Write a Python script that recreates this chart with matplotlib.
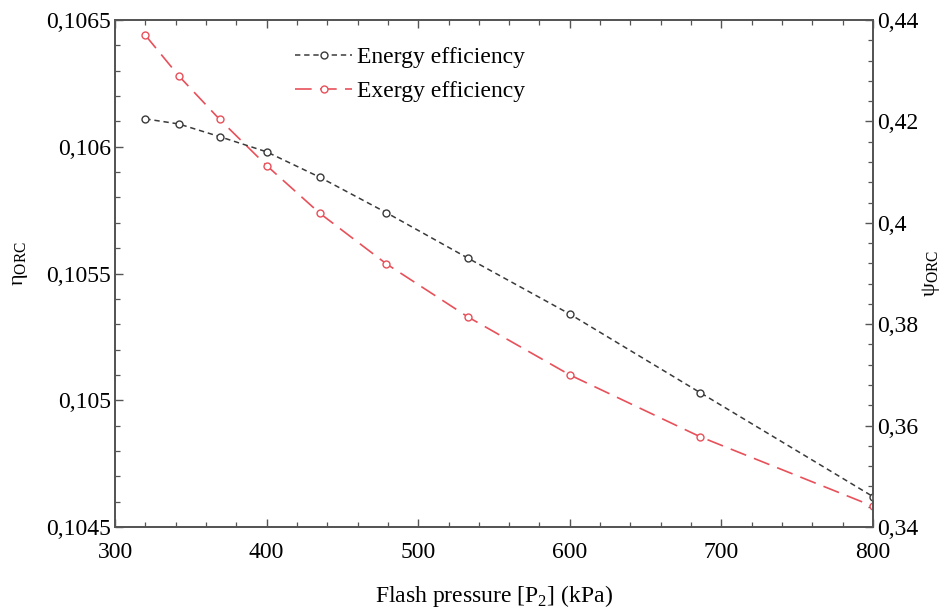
import matplotlib
matplotlib.use("Agg")
import matplotlib.pyplot as plt
from matplotlib.ticker import FuncFormatter, MultipleLocator

# flash pressure (kPa)
pressure = [320, 342, 369, 400, 435, 479, 533, 600, 686, 800]
# energy efficiency, left axis
eta_orc = [0.10611, 0.10609, 0.10604, 0.10598, 0.10588, 0.10574, 0.10556,
           0.10534, 0.10503, 0.10462]
# exergy efficiency, right axis
psi_orc = [0.4370, 0.4290, 0.4204, 0.4113, 0.4019, 0.3919, 0.3814,
           0.3700, 0.3578, 0.3441]

plt.rcParams["font.family"] = ["Liberation Serif", "DejaVu Serif"]
plt.rcParams["mathtext.fontset"] = "custom"
plt.rcParams["mathtext.rm"] = "Liberation Serif"

SPINE = "#555555"
BLACK = "#3a3a3a"
RED = "#e8505a"
FS = 17


def comma_fmt(v, _pos):
    return f"{v:g}".replace(".", ",")


fig = plt.figure(figsize=(9.45, 6.08), dpi=100)
ax = fig.add_axes([0.1217, 0.1332, 0.8021, 0.8339])
ax2 = ax.twinx()

l1, = ax.plot(pressure, eta_orc, color=BLACK, lw=1.1, dashes=(3.5, 2.5),
              marker="o", ms=5, mfc="white", mec=BLACK, mew=1.0,
              label="Energy efficiency")
l2, = ax2.plot(pressure, psi_orc, color=RED, lw=1.2, dashes=(10, 5),
               marker="o", ms=5, mfc="white", mec=RED, mew=1.0,
               label="Exergy efficiency")
ax.set_zorder(ax2.get_zorder() + 1)
ax.patch.set_visible(False)

ax.set_xlim(300, 800)
ax.set_ylim(0.1045, 0.1065)
ax2.set_ylim(0.34, 0.44)

ax.xaxis.set_major_locator(MultipleLocator(100))
ax.xaxis.set_minor_locator(MultipleLocator(20))
ax.yaxis.set_major_locator(MultipleLocator(0.0005))
ax.yaxis.set_minor_locator(MultipleLocator(0.0001))
ax2.yaxis.set_major_locator(MultipleLocator(0.02))
ax2.yaxis.set_minor_locator(MultipleLocator(0.004))
ax.yaxis.set_major_formatter(FuncFormatter(comma_fmt))
ax2.yaxis.set_major_formatter(FuncFormatter(comma_fmt))

for a in (ax, ax2):
    for s in a.spines.values():
        s.set_color(SPINE)
        s.set_linewidth(1.3)
ax.tick_params(which="both", direction="in", top=True, right=False,
               colors=SPINE, labelcolor="black", labelsize=FS)
ax.tick_params(axis="y", pad=3)
ax.tick_params(axis="x", pad=11)
ax.tick_params(which="major", length=6, width=1.0)
ax.tick_params(which="minor", length=3.5, width=0.9)
ax2.tick_params(which="both", direction="in", colors=SPINE,
                labelcolor="black", labelsize=FS, pad=3)
ax2.tick_params(which="major", length=6, width=1.0)
ax2.tick_params(which="minor", length=3.5, width=0.9)

ax.set_xlabel(r"Flash pressure [P$_2$] (kPa)", fontsize=FS, labelpad=14)
ax.set_ylabel(r"η$_{\mathregular{ORC}}$", fontsize=16)
ax2.set_ylabel(r"ψ$_{\mathregular{ORC}}$", fontsize=16, rotation=90)
ax.yaxis.set_label_coords(-0.112, 0.52)
ax2.yaxis.set_label_coords(1.062, 0.5)

ax.legend(handles=[l1, l2], loc="upper left", bbox_to_anchor=(0.21, 0.99),
          frameon=False, fontsize=FS, handlelength=2.4, handletextpad=0.2,
          labelspacing=0.55)

fig.savefig("out.png", dpi=100)
